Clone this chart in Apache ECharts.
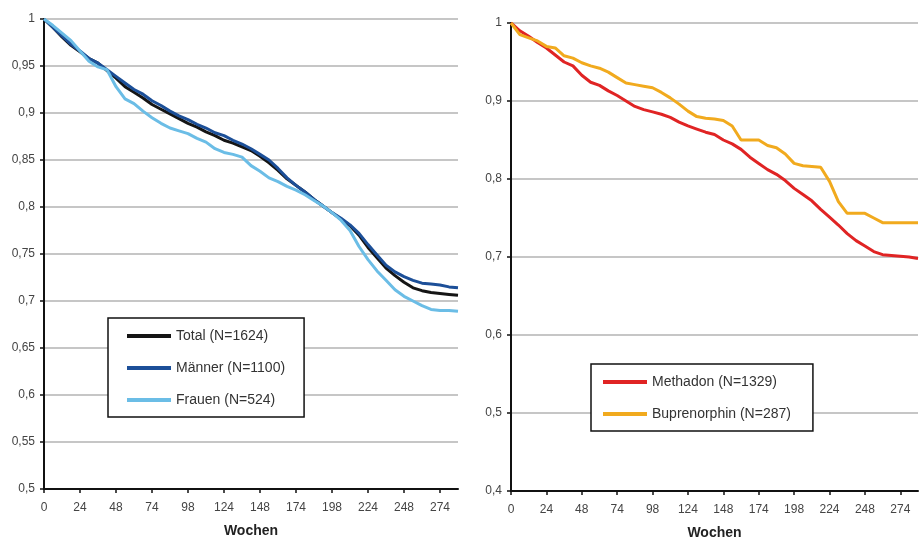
<!DOCTYPE html>
<html>
<head>
<meta charset="utf-8">
<script src="https://cdn.jsdelivr.net/npm/echarts@6/dist/echarts.min.js"></script>
<style>html,body{margin:0;padding:0;background:#fff;}#c{width:920px;height:541px;}</style>
</head>
<body>
<div id="c"></div>
<script>
const weeks = ['0','6','12','18','24','30','36','42','48','55','61','68','74','80','86','92','98','105','111','118','124','130','136','142','148','155','161','168','174','180','186','192','198','205','211','218','224','230','236','242','248','255','261','268','274','280','286'];

const total = [1.000,0.991,0.981,0.972,0.965,0.958,0.953,0.945,0.937,0.928,0.922,0.916,0.909,0.904,0.899,0.894,0.889,0.885,0.880,0.876,0.871,0.868,0.864,0.860,0.854,0.847,0.839,0.830,0.823,0.816,0.808,0.801,0.794,0.787,0.780,0.770,0.757,0.746,0.735,0.727,0.720,0.714,0.711,0.709,0.708,0.707,0.706];
const maenner = [1.000,0.991,0.982,0.973,0.966,0.958,0.953,0.946,0.939,0.932,0.925,0.920,0.913,0.908,0.902,0.897,0.893,0.888,0.884,0.879,0.876,0.871,0.867,0.862,0.856,0.850,0.841,0.831,0.823,0.816,0.808,0.801,0.794,0.788,0.781,0.772,0.760,0.749,0.738,0.731,0.726,0.722,0.719,0.718,0.717,0.715,0.714];
const frauen = [1.000,0.993,0.985,0.977,0.966,0.955,0.949,0.946,0.928,0.915,0.910,0.902,0.895,0.889,0.884,0.881,0.878,0.873,0.869,0.862,0.858,0.856,0.853,0.844,0.838,0.831,0.827,0.822,0.818,0.813,0.807,0.801,0.794,0.786,0.775,0.758,0.744,0.732,0.722,0.712,0.705,0.700,0.695,0.691,0.690,0.690,0.689];
const methadon = [1.000,0.990,0.983,0.975,0.968,0.959,0.950,0.945,0.933,0.924,0.920,0.913,0.907,0.900,0.893,0.889,0.886,0.883,0.879,0.873,0.868,0.864,0.860,0.857,0.850,0.845,0.838,0.828,0.820,0.812,0.806,0.798,0.788,0.780,0.772,0.761,0.751,0.741,0.730,0.721,0.714,0.707,0.703,0.702,0.701,0.700,0.698];
const bupre = [1.000,0.985,0.981,0.977,0.970,0.968,0.958,0.955,0.949,0.945,0.942,0.937,0.930,0.923,0.921,0.919,0.917,0.911,0.904,0.896,0.887,0.880,0.878,0.877,0.875,0.868,0.850,0.850,0.850,0.843,0.840,0.832,0.820,0.817,0.816,0.815,0.797,0.771,0.756,0.756,0.756,0.750,0.744,0.744,0.744,0.744,0.744];

const names = ['Total (N=1624)','Männer (N=1100)','Frauen (N=524)','Methadon (N=1329)','Buprenorphin (N=287)'];
const colors = ['#151515','#1c4f98','#6bbde6','#e02424','#f1aa1e'];

const fmt = v => String(+v.toFixed(2)).replace('.', ',');
const labelColor = '#444';

function xAxis(gi){
  return {
    type:'category', gridIndex:gi, data:weeks, boundaryGap:false,
    name:'Wochen', nameLocation:'middle', nameGap:35,
    nameTextStyle:{fontFamily:'Liberation Sans, Arial', fontSize:14, fontWeight:'bold', color:'#222'},
    axisLine:{lineStyle:{color:'#111', width:2}},
    axisTick:{show:true, interval:3, length:4, lineStyle:{color:'#111', width:1.5}},
    axisLabel:{interval:3, margin:13, color:labelColor, fontFamily:'Liberation Sans, Arial', fontSize:12},
    splitLine:{show:false}
  };
}
function yAxis(gi, min, max, interval){
  return {
    type:'value', gridIndex:gi, min:min, max:max, interval:interval,
    axisLine:{show:true, lineStyle:{color:'#111', width:2}},
    axisTick:{show:true, length:4, lineStyle:{color:'#111', width:1.5}},
    axisLabel:{formatter:fmt, margin:9, color:labelColor, fontFamily:'Liberation Sans, Arial', fontSize:12},
    splitLine:{show:true, lineStyle:{color:'#b3b3b3', width:1.5}}
  };
}
function ser(i, data, gi){
  return {
    name:names[i], type:'line', xAxisIndex:gi, yAxisIndex:gi, data:data,
    showSymbol:false, symbol:'none', smooth:false,
    lineStyle:{color:colors[i], width:3}, itemStyle:{color:colors[i]}
  };
}
const legendBase = {
  orient:'vertical', icon:'rect', itemWidth:44, itemHeight:4, itemGap:18,
  borderColor:'#111', borderWidth:1.5, backgroundColor:'#fff',
  textStyle:{fontFamily:'Liberation Sans, Arial', fontSize:14, color:'#333'}
};

const chart = echarts.init(document.getElementById('c'), null, {renderer:'canvas'});
chart.setOption({
  animation:false,
  backgroundColor:'#fff',
  grid:[
    {left:44, right:462, top:19, bottom:52, containLabel:false, outerBoundsMode:'none'},
    {left:511, right:2, top:23, bottom:50, containLabel:false, outerBoundsMode:'none'}
  ],
  xAxis:[xAxis(0), xAxis(1)],
  yAxis:[yAxis(0,0.5,1,0.05), yAxis(1,0.4,1,0.1)],
  legend:[
    Object.assign({}, legendBase, {data:names.slice(0,3), left:108, top:318, padding:[11,19,10,19]}),
    Object.assign({}, legendBase, {data:names.slice(3), left:591, top:364, padding:[11,22,10,12]})
  ],
  series:[
    ser(0,total,0), ser(1,maenner,0), ser(2,frauen,0),
    ser(3,methadon,1), ser(4,bupre,1)
  ]
});
</script>
</body>
</html>
